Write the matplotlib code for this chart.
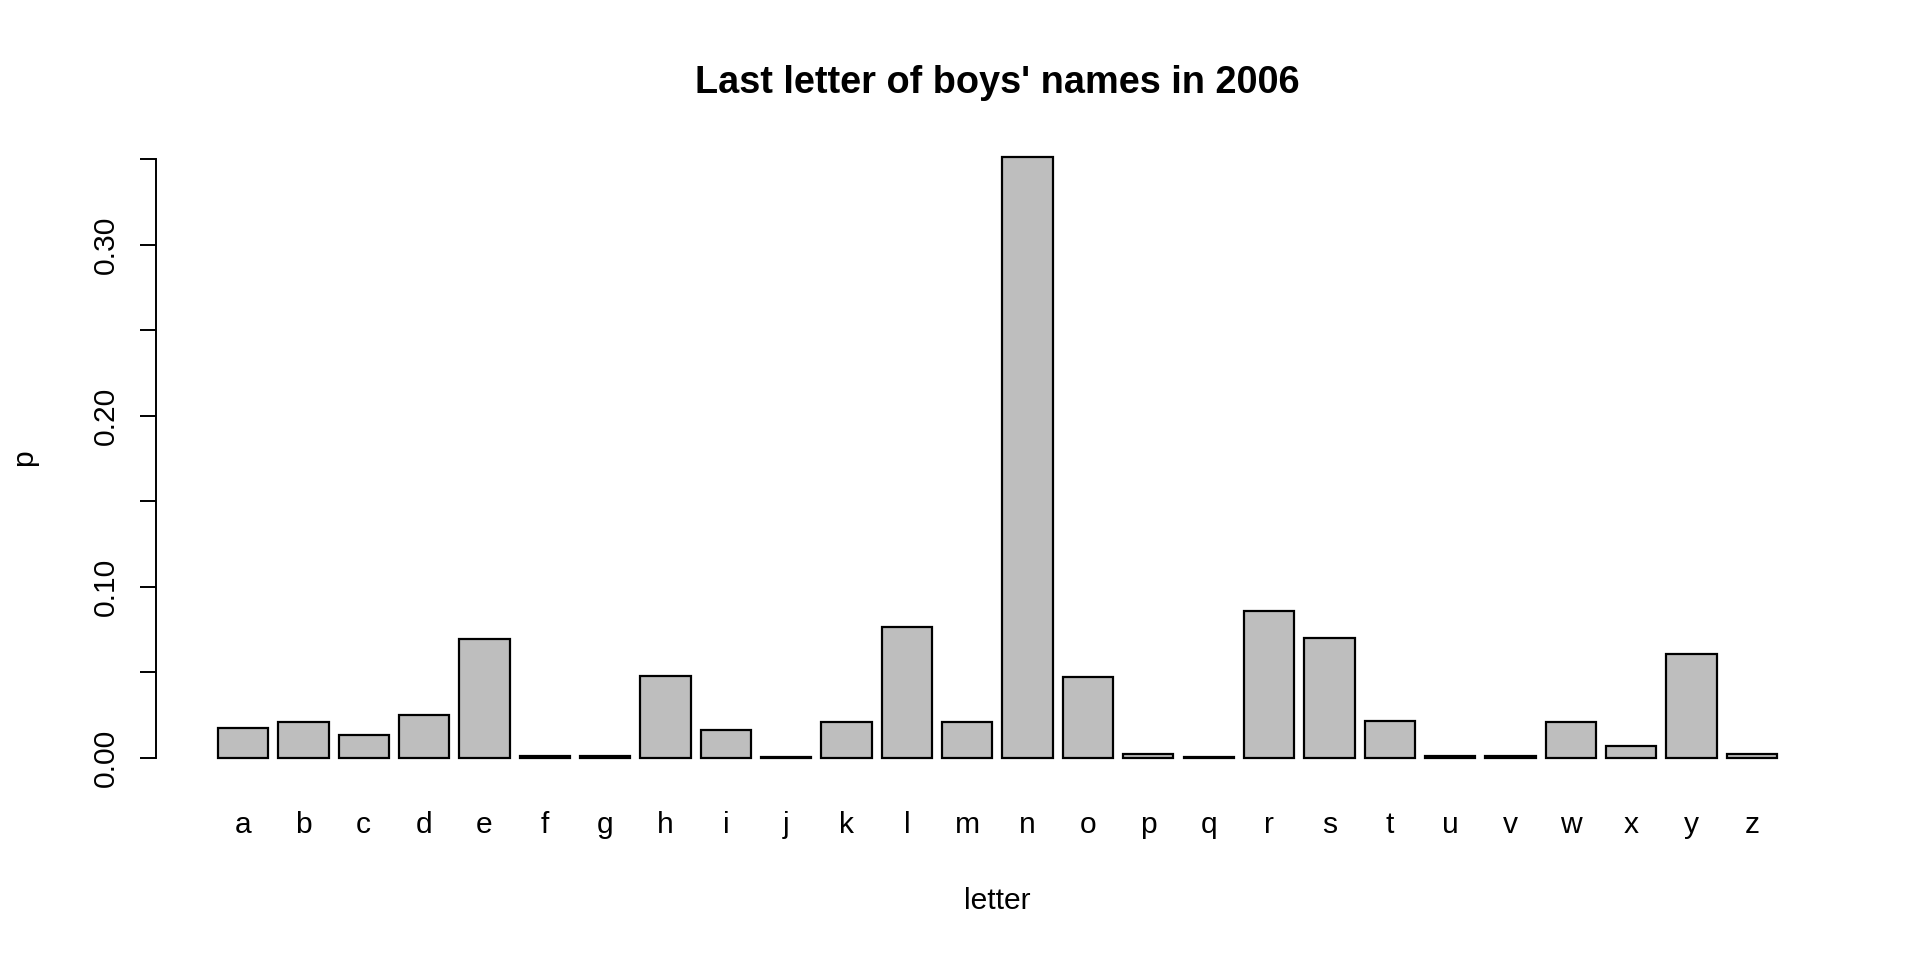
import matplotlib
matplotlib.use("Agg")
import matplotlib.pyplot as plt
import numpy as np

letters = list("abcdefghijklmnopqrstuvwxyz")
p = [0.0175, 0.0209, 0.0135, 0.0251, 0.0696, 0.0010, 0.0010, 0.0478, 0.0164, 0.0003,
     0.0209, 0.0766, 0.0211, 0.3515, 0.0474, 0.0020, 0.0005, 0.0860, 0.0702, 0.0216,
     0.0012, 0.0012, 0.0211, 0.0070, 0.0604, 0.0020]
yticks = [0.00, 0.05, 0.10, 0.15, 0.20, 0.25, 0.30, 0.35]
ylabels = ["0.00", "", "0.10", "", "0.20", "", "0.30", ""]
title = "Last letter of boys' names in 2006"

plt.rcParams['font.family'] = ['Liberation Sans', 'DejaVu Sans']

fig = plt.figure(figsize=(19.2, 9.6), dpi=100)
ax = fig.add_axes([0.0810, 0.1857, 0.8770, 0.6761])

n = len(letters)
x = 0.7 + 1.2 * np.arange(n)
ax.bar(x, p, width=1.0, color="#BEBEBE", edgecolor="black", linewidth=1.6)

xl0, xl1 = 0.2, 0.2 + 1.2 * (n - 1) + 1.0
d = 0.04 * (xl1 - xl0)
ax.set_xlim(xl0 - d, xl1 + d)
ymax = max(p)
ax.set_ylim(-0.04 * ymax, ymax * 1.04)

for s in ["top", "right", "bottom"]:
    ax.spines[s].set_visible(False)
ax.spines["left"].set_bounds(0, 0.35)
ax.spines["left"].set_linewidth(1.4)

ax.set_xticks(x, letters)
ax.tick_params(axis="x", length=0, pad=21, labelsize=21.6)
ax.set_yticks(yticks, ylabels)
ax.tick_params(axis="y", length=11.5, width=1.4, pad=14.5, labelsize=21.6, labelrotation=90)
for lab in ax.get_yticklabels():
    lab.set_va("center")

ax.set_xlabel("letter", fontsize=21.6)
ax.xaxis.set_label_coords(0.5, -0.1961)
ax.xaxis.label.set_va("baseline")
ax.set_ylabel("p", fontsize=21.6)
ax.yaxis.set_label_coords(-0.078, 0.5)
ax.yaxis.label.set_va("center")

ax.text(0.5, 1.061, title, transform=ax.transAxes, ha="center", va="baseline",
        fontsize=27.3, fontweight="bold")

fig.savefig("out.png", dpi=100)
